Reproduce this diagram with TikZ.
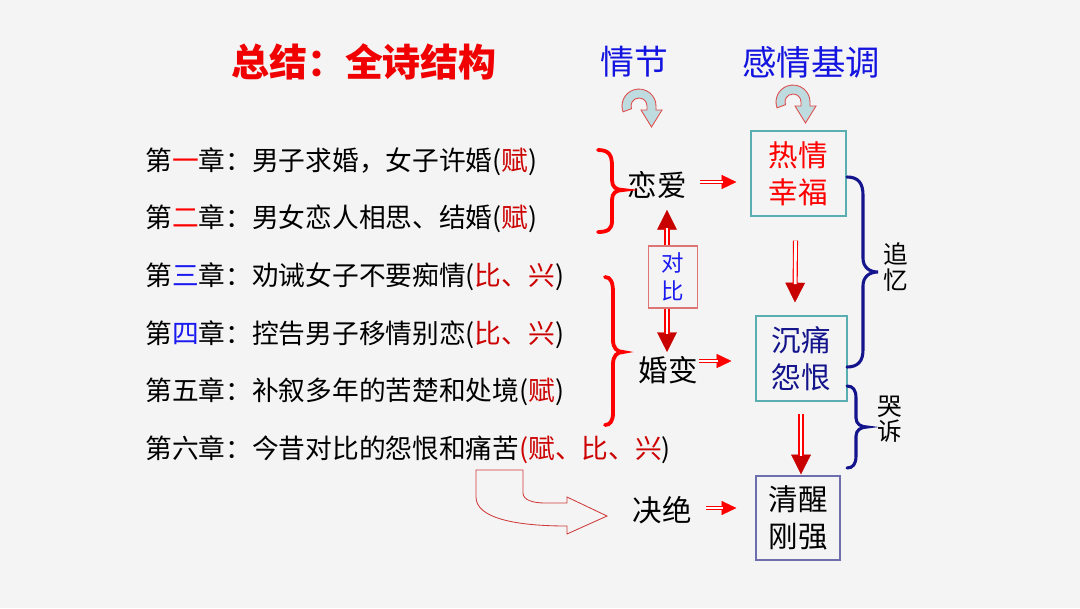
\documentclass[tikz,border=0pt]{standalone}
\usepackage{fontspec}
\setmainfont{Noto Sans CJK SC}
\usetikzlibrary{arrows.meta, calc, positioning}

\definecolor{bg}{HTML}{F4F4F4}
\definecolor{titlered}{HTML}{F00000}
\definecolor{headblue}{HTML}{1414E0}
\definecolor{numblue}{HTML}{1A1AF0}
\definecolor{fu}{HTML}{CC0000}
\definecolor{navy}{HTML}{14148C}
\definecolor{teal}{HTML}{58AEB0}
\definecolor{lilac}{HTML}{6E6EAE}
\definecolor{darkred}{HTML}{C80000}
\definecolor{iconfill}{HTML}{BEDBDF}
\definecolor{iconline}{HTML}{E04848}
\definecolor{sweepred}{HTML}{D03A3A}

% curved turn-down arrow under the headings
\newcommand{\turnarrow}[1]{%
  \draw[turn] ($(#1)+(200:17)$) arc[start angle=200, end angle=0, radius=17]
    -- ++(0,-4) -- ++(6,0) -- ++(-10.5,-17) -- ++(-10.5,17) -- ++(6,0) -- ++(0,4)
    arc[start angle=0, end angle=200, radius=8] -- cycle;}

% hollow double shaft with a solid head: #1 style, #2 from, #3 to
\newcommand{\dblarrow}[3]{%
  \draw[#1head] (#2) -- (#3);
  \draw[#1shaft] (#2) -- (#3);}

\begin{document}
\begin{tikzpicture}[x=0.025cm, y=0.025cm,
  chap/.style={anchor=base west, inner sep=0pt, font=\fontsize{19}{22}\selectfont},
  plot/.style={inner sep=0pt, font=\fontsize{21}{24}\selectfont},
  box/.style={draw, line width=0.8pt, inner sep=0pt, align=center,
              font=\fontsize{21}{26.3}\selectfont},
  note/.style={inner sep=0pt, align=center, font=\fontsize{17.5}{18.2}\selectfont},
  hhead/.style={red, line width=0.3pt, -{Triangle[length=10.5pt, width=10pt]}},
  hshaft/.style={draw=red, double=white, double distance=1.6pt, line width=0.8pt,
                 shorten >=9.5pt},
  vhead/.style={darkred, line width=0.3pt, -{Triangle[length=14pt, width=14pt]}},
  vshaft/.style={draw=red, double=white, double distance=2pt, line width=0.8pt,
                 shorten >=13pt},
  brace/.style={line width=2.7pt, line cap=round},
  turn/.style={draw=iconline, fill=iconfill, line width=0.6pt},
  sweep/.style={draw=sweepred, line width=0.6pt}
]
  \fill[bg] (0,0) rectangle (1080,-608);
  \useasboundingbox (0,0) rectangle (1080,-608);

  % headings
  \node[font=\fontsize{27}{30}\selectfont\bfseries, text=titlered] (title) at (364,-62) {总结：全诗结构};
  \node[font=\fontsize{24}{26}\selectfont, text=headblue] (plothead) at (634,-62) {情节};
  \node[font=\fontsize{24.5}{26}\selectfont, text=headblue] (moodhead) at (811,-62) {感情基调};
  \coordinate (turnA) at (639,-106);
  \coordinate (turnB) at (793,-102);
  \turnarrow{turnA}
  \turnarrow{turnB}

  % chapters
  \node[chap] (c1) at (145,-170) {第{\color{red}一}章：男子求婚，女子许婚({\color{fu}赋})};
  \node[chap] (c2) at (145,-227) {第{\color{red}二}章：男女恋人相思、结婚({\color{fu}赋})};
  \node[chap] (c3) at (145,-285) {第{\color{numblue}三}章：劝诫女子不要痴情({\color{fu}比、兴})};
  \node[chap] (c4) at (145,-343) {第{\color{numblue}四}章：控告男子移情别恋({\color{fu}比、兴})};
  \node[chap] (c5) at (145,-400) {第五章：补叙多年的苦楚和处境({\color{fu}赋})};
  \node[chap] (c6) at (145,-458) {第六章：今昔对比的怨恨和痛苦{\color{fu}(赋、比、兴})};

  % plot
  \node[plot] (lian) at (657,-185) {恋爱};
  \node[plot] (hun)  at (668,-370) {婚变};
  \node[plot] (jue)  at (662,-510) {决绝};
  \node[box, draw=sweepred!70, text=numblue, minimum width=34.9pt, minimum height=44.1pt,
        font=\fontsize{16}{20}\selectfont] (db) at (673,-277) {对\\比};

  % moods
  \node[box, draw=teal, text=red, minimum width=67.6pt, minimum height=60.5pt] (hot) at (798.5,-173.5) {热情\\幸福};
  \node[box, draw=teal, text=navy, minimum width=64.7pt, minimum height=60.5pt] (pain) at (801.5,-358.5) {沉痛\\怨恨};
  \node[box, draw=lilac, minimum width=59.8pt, minimum height=59.8pt] (clear) at (798,-518) {清醒\\刚强};

  \node[note] (zhuiyi) at (896,-267) {追\\忆};
  \node[note] (kusu)   at (890,-419) {哭\\诉};

  % arrows
  \coordinate (a1) at ($(lian.east)+(13,3)$);
  \coordinate (b1) at ($(lian.east -| hot.west)+(-14,3)$);
  \coordinate (a2) at ($(hun.east)+(1,9)$);
  \coordinate (b2) at ($(hun.east -| pain.west)+(-24,9)$);
  \coordinate (a3) at ($(jue.east)+(14,2)$);
  \coordinate (b3) at ($(jue.east -| clear.west)+(-19,2)$);
  \dblarrow{h}{a1}{b1}
  \dblarrow{h}{a2}{b2}
  \dblarrow{h}{a3}{b3}
  \coordinate (a4) at ($(hot.south)+(-3,-24)$);
  \coordinate (b4) at ($(pain.north)+(-6.5,13)$);
  \coordinate (a5) at ($(pain.south)+(-0.5,-12)$);
  \coordinate (b5) at ($(clear.north)+(3,1)$);
  \dblarrow{v}{a4}{b4}
  \dblarrow{v}{a5}{b5}
  \coordinate (dbn) at ($(db.north)+(-6,0)$);
  \coordinate (dbs) at ($(db.south)+(-6,0)$);
  \coordinate (tipn) at ($(dbn |- lian.south)+(0,-11)$);
  \coordinate (tips) at ($(dbs |- hun.north)+(0,4)$);
  \dblarrow{v}{dbn}{tipn}
  \dblarrow{v}{dbs}{tips}

  % braces
  \draw[brace, red] (598,-150) .. controls (609,-150) and (612,-155) .. (612,-166) -- (612,-180)
    .. controls (612,-187) and (616,-190) .. (623,-190)
    .. controls (616,-190) and (612,-193) .. (612,-200) -- (612,-221)
    .. controls (612,-229) and (608,-232) .. (598,-232);
  \draw[brace, red] (605,-277) .. controls (611,-277) and (613,-283) .. (613,-292) -- (613,-340)
    .. controls (613,-348) and (617,-352) .. (623,-352)
    .. controls (617,-352) and (613,-356) .. (613,-364) -- (613,-413)
    .. controls (613,-421) and (610,-425) .. (605,-425);
  \draw[brace, navy, line width=2.2pt] (847,-177) .. controls (858,-177) and (863,-183) .. (863,-195) -- (863,-258)
    .. controls (863,-267) and (869,-272) .. (878,-272)
    .. controls (869,-272) and (863,-277) .. (863,-286) -- (863,-350)
    .. controls (863,-361) and (858,-367) .. (847,-367);
  \draw[brace, navy, line width=2.2pt] (847,-386) .. controls (853,-386) and (856,-390) .. (856,-398) -- (856,-418)
    .. controls (856,-424) and (861,-427) .. (867,-427)
    .. controls (861,-427) and (856,-430) .. (856,-436) -- (856,-456)
    .. controls (856,-464) and (853,-468) .. (847,-468);

  % bent arrow from chapter six
  \draw[sweep] (476,-470) -- (523,-470) -- (523,-493)
    .. controls (523,-500) and (533,-503) .. (545,-503) -- (567,-503) -- (567,-497)
    -- (607,-516) -- (567,-534) -- (567,-526)
    .. controls (515,-526) and (476,-518) .. (476,-497) -- cycle;
\end{tikzpicture}
\end{document}
